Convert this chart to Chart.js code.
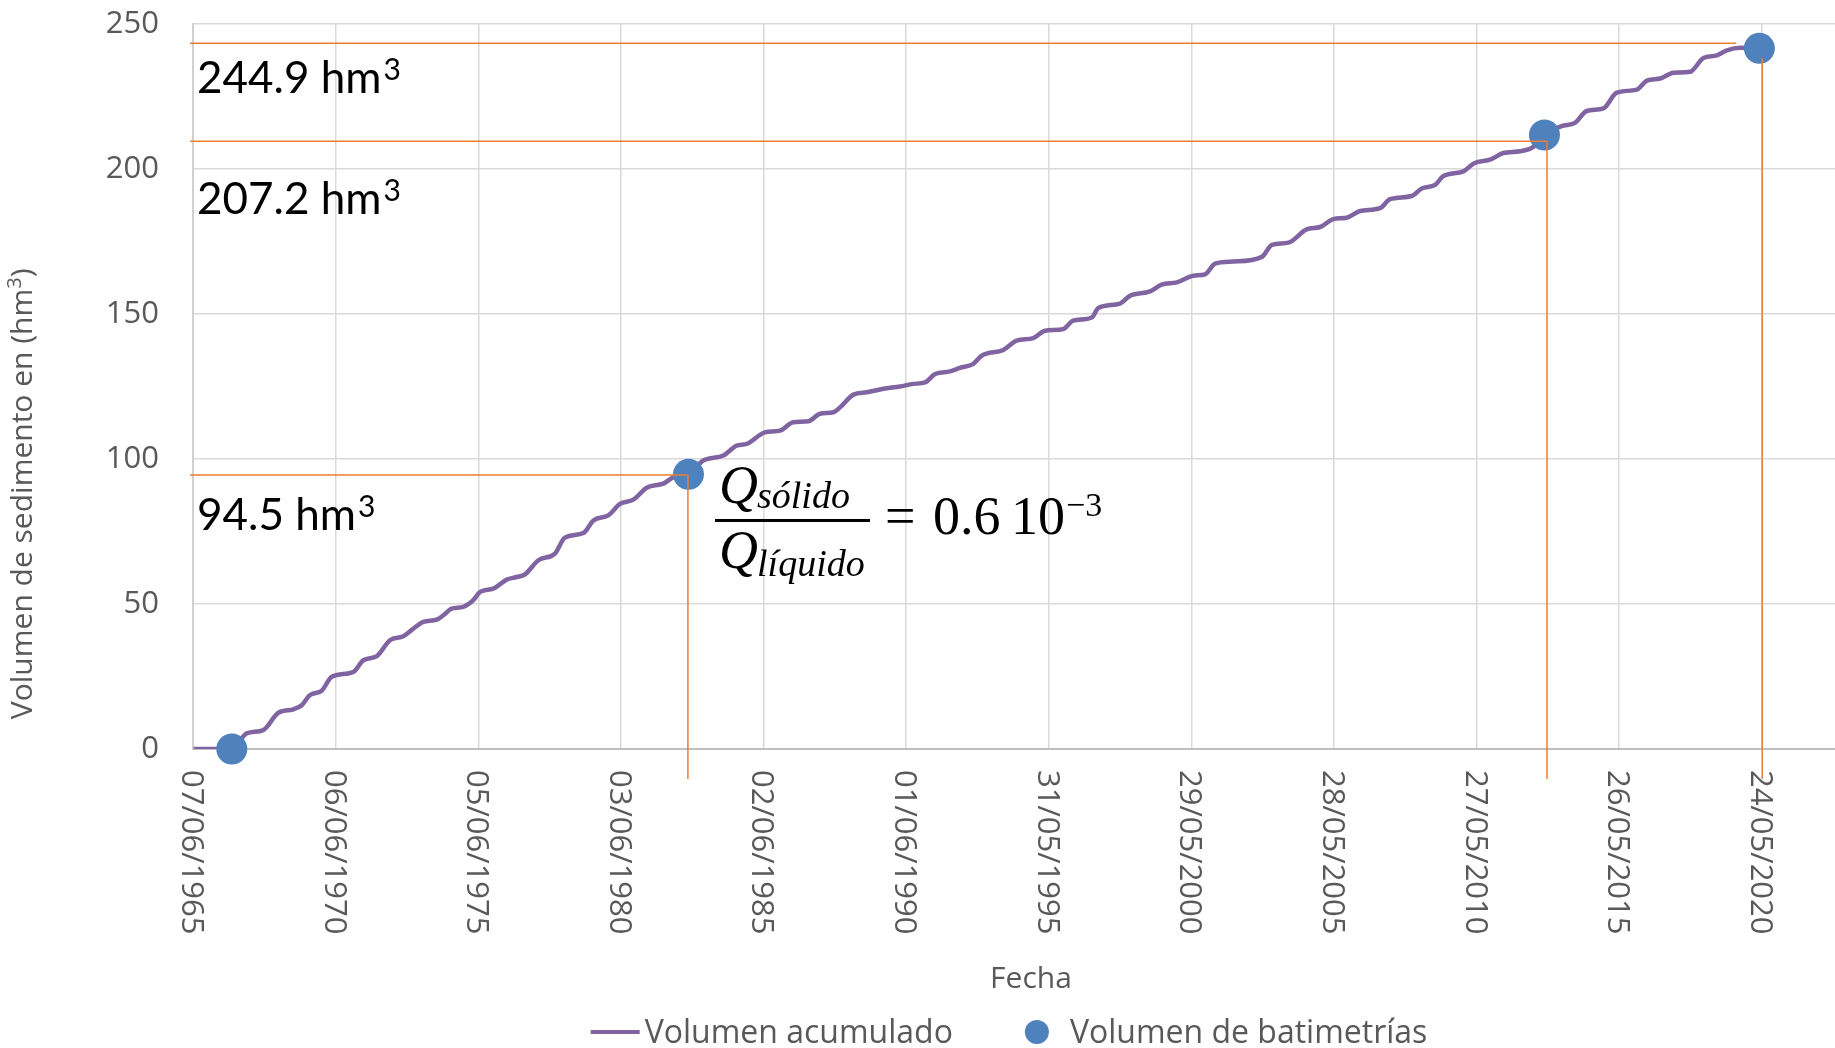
<!DOCTYPE html>
<html lang="es">
<head>
<meta charset="UTF-8">
<title>Volumen de sedimento acumulado</title>
<script src="https://cdn.jsdelivr.net/npm/chart.js"></script>
<style>
  html, body { margin: 0; padding: 0; background: #fff; overflow: hidden; }
  canvas { display: block; }
</style>
</head>
<body>
<canvas id="chart" width="1835" height="1048"></canvas>
<script>
// curva acumulada (año decimal / hm3)
const years = [
  1965.45, 1966.79, 1967.31, 1967.89, 1968.42, 1968.95, 1969.24, 1969.53, 1969.94, 1970.29,
  1971.05, 1971.40, 1971.87, 1972.33, 1972.80, 1973.15, 1973.50, 1973.97, 1974.20, 1974.49,
  1974.90, 1975.25, 1975.49, 1975.95, 1976.42, 1976.77, 1977.06, 1977.53, 1978.11, 1978.46,
  1979.11, 1979.46, 1979.98, 1980.39, 1980.86, 1981.33, 1981.91, 1982.26, 1982.79, 1983.31,
  1984.01, 1984.48, 1984.83, 1985.47, 1986.00, 1986.46, 1986.99, 1987.40, 1987.87, 1988.10,
  1988.57, 1989.04, 1989.62, 1990.20, 1990.67, 1991.08, 1991.43, 1991.95, 1992.30, 1992.77,
  1993.06, 1993.82, 1994.29, 1994.87, 1995.28, 1995.92, 1996.27, 1996.92, 1997.15, 1997.91,
  1998.26, 1998.96, 1999.37, 1999.90, 2000.48, 2000.89, 2001.24, 2001.88, 2002.88, 2003.23,
  2003.81, 2004.45, 2004.92, 2005.38, 2005.85, 2006.32, 2007.02, 2007.37, 2008.13, 2008.48,
  2008.95, 2009.24, 2009.94, 2010.32, 2010.90, 2011.34, 2011.93, 2012.39, 2012.78, 2013.38,
  2013.85, 2014.26, 2014.85, 2015.31, 2016.02, 2016.37, 2016.83, 2017.30, 2017.88, 2018.35,
  2018.82, 2019.17, 2019.63, 2020.31
];
const volumes = [
  0, 0, 5.4, 6.5, 12.5, 13.7, 15.1, 18.6, 20.1, 24.9,
  26.6, 30.6, 32.0, 37.5, 38.9, 41.5, 43.8, 44.6, 46.1, 48.4,
  49.0, 51.3, 54.2, 55.3, 58.4, 59.3, 60.2, 65.1, 67.4, 72.9,
  74.5, 78.8, 80.6, 84.5, 86.0, 90.1, 91.5, 93.7, 94.7, 99.5,
  101.2, 104.6, 105.2, 109.2, 109.8, 112.7, 113.0, 115.6, 116.1, 117.8,
  122.2, 123.0, 124.2, 125.0, 125.9, 126.4, 129.3, 130.2, 131.4, 132.8,
  135.6, 137.6, 140.8, 141.7, 144.2, 144.8, 147.7, 148.8, 152.1, 153.6,
  156.3, 157.8, 160.1, 160.9, 163.2, 163.7, 167.4, 168.1, 169.7, 173.8,
  174.6, 179.2, 180.0, 182.7, 183.2, 185.5, 186.5, 189.6, 190.7, 193.3,
  194.5, 197.6, 199.2, 202.0, 203.3, 205.5, 206.1, 207.6, 211.7, 214.8,
  215.9, 220.0, 220.9, 226.3, 227.4, 230.5, 231.2, 233.2, 233.5, 238.3,
  239.2, 240.9, 241.8, 241.6
];

// batimetrías
const batYears = [1966.79, 1982.79, 2012.78, 2020.31];
const batVolumes = [0, 94.7, 211.7, 241.6];

const xTickLabels = ['07/06/1965', '06/06/1970', '05/06/1975', '03/06/1980', '02/06/1985', '01/06/1990',
  '31/05/1995', '29/05/2000', '28/05/2005', '27/05/2010', '26/05/2015', '24/05/2020'];
const xMax = 2022.96;
const yMin = 0, yMax = 250, yStep = 50;

// líneas guía naranjas y sus rótulos
const guideValues = [94.5, 209.6, 243.4];
const guideYears = [1982.77, 2012.87, 2020.41];
const guideEndYears = [1982.77, 2012.87, 2019.50];
const guideTopValues = [94.5, 209.6, 238.2];
const guideLabels = ['94.5 hm', '207.2 hm', '244.9 hm'];
const guideLabelValues = [75.4, 184.5, 226.2];

const GRAY = '#595959';
const SANS = '"Open Sans", sans-serif';
const SERIF = '"Liberation Serif", serif';

function toYear(s) {
  const [d, m, y] = s.split('/').map(Number);
  const start = Date.UTC(y, 0, 1), end = Date.UTC(y + 1, 0, 1);
  return y + (Date.UTC(y, m - 1, d) - start) / (end - start);
}

const extras = {
  id: 'extras',
  afterDatasetsDraw(chart) {
    const {ctx, chartArea: a, scales: {x, y}} = chart;
    ctx.save();
    ctx.strokeStyle = '#ed7d31';
    ctx.lineWidth = 1.5;
    guideValues.forEach((v, i) => {
      const py = y.getPixelForValue(v);
      const vx = x.getPixelForValue(guideYears[i]);
      ctx.beginPath();
      ctx.moveTo(a.left - 3, py);
      ctx.lineTo(x.getPixelForValue(guideEndYears[i]), py);
      ctx.moveTo(vx, y.getPixelForValue(guideTopValues[i]));
      ctx.lineTo(vx, a.bottom + 30);
      ctx.stroke();
    });
    ctx.restore();
  },
  afterDraw(chart) {
    const {ctx, chartArea: a, scales: {x, y}} = chart;
    ctx.save();
    ctx.textAlign = 'left';
    ctx.textBaseline = 'alphabetic';

    // rótulos de volumen
    ctx.fillStyle = '#000';
    guideLabels.forEach((t, i) => {
      const by = y.getPixelForValue(guideLabelValues[i]);
      ctx.font = '44px Lato';
      ctx.fillText(t, a.left + 4, by);
      const w = ctx.measureText(t).width;
      ctx.font = '30px Lato';
      ctx.fillText('3', a.left + 6 + w, by - 13);
    });

    // ecuación
    const ex = x.getPixelForValue(1983.72), ey = y.getPixelForValue(78.8);
    ctx.fillRect(ex, ey - 1.5, 155, 3);
    ctx.font = `italic 54px ${SERIF}`;
    ctx.fillText('Q', ex + 4, ey - 17);
    ctx.fillText('Q', ex + 4, ey + 48);
    ctx.font = `italic 38px ${SERIF}`;
    ctx.fillText('sólido', ex + 42, ey - 12);
    ctx.fillText('líquido', ex + 42, ey + 56);
    ctx.font = `54px ${SERIF}`;
    ctx.fillText('=', ex + 170, ey + 14);
    ctx.fillText('0.6', ex + 218, ey + 14);
    ctx.fillText('10', ex + 296, ey + 14);
    const w10 = ctx.measureText('10').width;
    ctx.font = `34px ${SERIF}`;
    ctx.fillText('\u22123', ex + 297 + w10, ey - 4);

    // etiquetas del eje x, giradas
    ctx.fillStyle = GRAY;
    ctx.font = `31px ${SANS}`;
    xTickLabels.forEach(l => {
      const px = x.getPixelForValue(toYear(l));
      ctx.save();
      ctx.translate(px, a.bottom + 21);
      ctx.rotate(Math.PI / 2);
      ctx.fillText(l, 0, 11);
      ctx.restore();
    });

    // título eje x
    ctx.font = `30px ${SANS}`;
    ctx.textAlign = 'center';
    ctx.fillText('Fecha', (a.left + a.right) / 2 + 17, a.bottom + 239);

    // título eje y
    ctx.save();
    ctx.translate(32, y.getPixelForValue(88));
    ctx.rotate(-Math.PI / 2);
    ctx.textAlign = 'left';
    const t1 = 'Volumen de sedimento en (hm', t3 = ')';
    ctx.font = `30px ${SANS}`;
    const w1 = ctx.measureText(t1).width, w3 = ctx.measureText(t3).width;
    ctx.font = `20px ${SANS}`;
    const w2 = ctx.measureText('3').width;
    const sx = -(w1 + w2 + w3) / 2;
    ctx.font = `30px ${SANS}`;
    ctx.fillText(t1, sx, 0);
    ctx.font = `20px ${SANS}`;
    ctx.fillText('3', sx + w1, -11);
    ctx.font = `30px ${SANS}`;
    ctx.fillText(t3, sx + w1 + w2, 0);
    ctx.restore();

    // leyenda
    const ds = chart.data.datasets;
    ctx.font = `32px ${SANS}`;
    ctx.textAlign = 'left';
    const lw1 = ctx.measureText(ds[1].label).width;
    const lw2 = ctx.measureText(ds[0].label).width;
    const total = 49 + 5 + lw1 + 72 + 24 + 21 + lw2;
    let lx = (a.left + a.right) / 2 - 5 - total / 2;
    const ly = 1032;
    ctx.strokeStyle = ds[1].borderColor;
    ctx.lineWidth = 4;
    ctx.beginPath();
    ctx.moveTo(lx, ly);
    ctx.lineTo(lx + 49, ly);
    ctx.stroke();
    lx += 54;
    ctx.fillText(ds[1].label, lx, ly + 11);
    lx += lw1 + 72;
    ctx.fillStyle = ds[0].pointBackgroundColor;
    ctx.beginPath();
    ctx.arc(lx + 12, ly, 12, 0, Math.PI * 2);
    ctx.fill();
    lx += 45;
    ctx.fillStyle = GRAY;
    ctx.fillText(ds[0].label, lx, ly + 11);

    ctx.restore();
  }
};

new Chart(document.getElementById('chart'), {
  type: 'line',
  data: {
    datasets: [
      {
        label: 'Volumen de batimetrías',
        data: batYears.map((v, i) => ({x: v, y: batVolumes[i]})),
        showLine: false,
        pointRadius: 15.5,
        pointBackgroundColor: '#4f81bd',
        pointBorderWidth: 0,
        clip: false,
        order: 1
      },
      {
        label: 'Volumen acumulado',
        data: years.map((v, i) => ({x: v, y: volumes[i]})),
        borderColor: '#8064a2',
        borderWidth: 4.5,
        pointRadius: 0,
        cubicInterpolationMode: 'monotone',
        order: 2
      }
    ]
  },
  options: {
    responsive: false,
    animation: false,
    events: [],
    layout: {autoPadding: false, padding: {top: 24, right: 0, bottom: 0, left: 0}},
    plugins: {legend: {display: false}, tooltip: {enabled: false}},
    scales: {
      x: {
        type: 'linear',
        min: toYear(xTickLabels[0]),
        max: xMax,
        afterBuildTicks: s => { s.ticks = xTickLabels.map(l => ({value: toYear(l)})); },
        afterFit: s => { s.height = 299; s.paddingLeft = 0; s.paddingRight = 0; },
        ticks: {display: false},
        grid: {color: '#d9d9d9', lineWidth: 1.5, drawTicks: false},
        border: {color: '#bfbfbf', width: 2}
      },
      y: {
        min: yMin,
        max: yMax,
        afterFit: s => { s.width = 193; s.paddingTop = 0; s.paddingBottom = 0; },
        ticks: {stepSize: yStep, padding: 34, color: GRAY, font: {family: SANS, size: 31}},
        grid: {color: '#d9d9d9', lineWidth: 1.5, drawTicks: false},
        border: {color: '#d0d0d0', width: 2}
      }
    }
  },
  plugins: [extras]
});
</script>
</body>
</html>
